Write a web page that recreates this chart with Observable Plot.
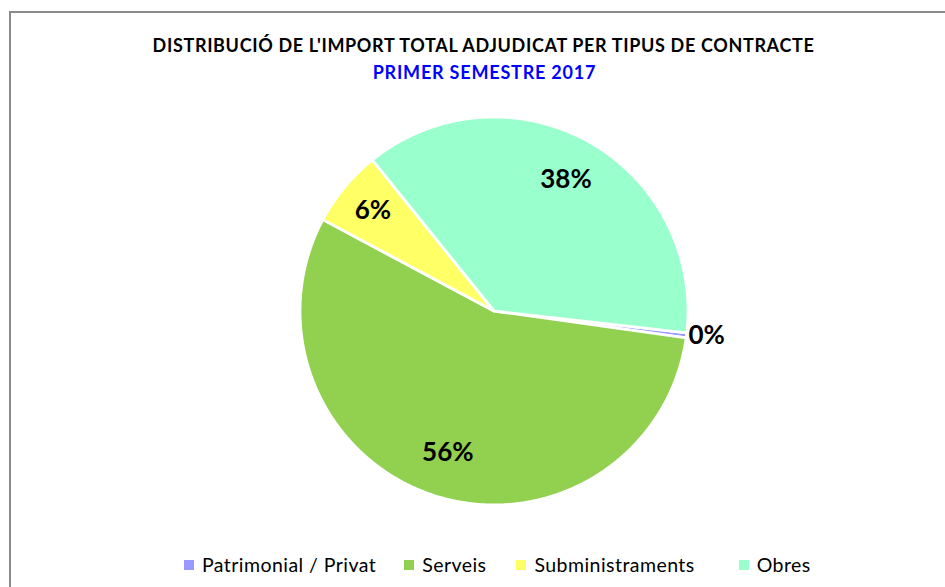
<!DOCTYPE html>
<html><head><meta charset="utf-8">
<script src="https://cdn.jsdelivr.net/npm/d3@7"></script>
<script src="https://cdn.jsdelivr.net/npm/@observablehq/plot@0.6"></script>
<style>
html,body{margin:0;padding:0;background:#fff;}
#wrap{position:relative;width:945px;height:587px;overflow:hidden;font-family:Lato,"Liberation Sans",Arial,sans-serif;}
#chart{position:absolute;left:0;top:0;z-index:0;}
#frame{position:absolute;left:9px;top:11px;width:1000px;height:1000px;border-left:2px solid #8a8a8a;border-top:2px solid #8a8a8a;z-index:2;pointer-events:none;}
#title{position:absolute;left:0;width:967px;top:35px;text-align:center;font-weight:bold;font-size:18px;letter-spacing:0.65px;line-height:20px;color:#000;z-index:3;white-space:nowrap;}
#subtitle{position:absolute;left:0;width:969px;top:62px;text-align:center;font-weight:bold;font-size:18px;letter-spacing:0.8px;line-height:20px;color:#0000ff;z-index:3;white-space:nowrap;}
#legend{position:absolute;left:184px;top:555px;display:flex;align-items:center;z-index:3;font-size:19.5px;letter-spacing:0.45px;line-height:20px;color:#000;white-space:nowrap;}
#legend .item{display:flex;align-items:center;}
#legend .sw{width:10px;height:10px;margin-right:8px;}
</style></head>
<body>
<div id="wrap">
  <div id="chart"></div>
  <div id="frame"></div>
  <div id="title">DISTRIBUCIÓ DE L'IMPORT TOTAL ADJUDICAT PER TIPUS DE CONTRACTE</div>
  <div id="subtitle">PRIMER SEMESTRE 2017</div>
  <div id="legend"></div>
</div>
<script>
// ---- data ----
const categories = ["Patrimonial / Privat", "Serveis", "Subministraments", "Obres"];
const shares = [0.4, 55.6, 6.4, 37.6];
const pctLabels = ["0%", "56%", "6%", "38%"];
const colors = ["#9999FF", "#92D050", "#FFFF66", "#99FFCC"];

// ---- layout ----
const W = 945, H = 587;
const cx = 493.5, cy = 310.5, R = 194;
const firstSliceAngle = 96.5; // degrees clockwise from 12 o'clock

const pie = d3.pie().sort(null).value(d => d.share)
  .startAngle(firstSliceAngle * Math.PI / 180)
  .endAngle(firstSliceAngle * Math.PI / 180 + 2 * Math.PI);
const rows = categories.map((c, i) => ({cat: c, share: shares[i], label: pctLabels[i]}));
const arcs = pie(rows);

// polygon points in unit-radius coordinates
const pts = [];
for (const a of arcs) {
  const n = Math.max(2, Math.ceil((a.endAngle - a.startAngle) / (Math.PI / 360)));
  pts.push({cat: a.data.cat, x: 0, y: 0});
  for (let k = 0; k <= n; k++) {
    const t = a.startAngle + (a.endAngle - a.startAngle) * k / n;
    pts.push({cat: a.data.cat, x: Math.sin(t), y: Math.cos(t)});
  }
}
const labelPts = arcs.map(a => {
  const m = (a.startAngle + a.endAngle) / 2;
  const inside = a.data.share >= 2;
  const rr = !inside ? 1.0 : (a.data.share < 10 ? 0.81 : 0.77);
  return {cat: a.data.cat, label: a.data.label, inside, x: rr * Math.sin(m), y: rr * Math.cos(m)};
});

const chart = Plot.plot({
  width: W, height: H,
  margin: 0,
  x: {domain: [-cx / R, (W - cx) / R], axis: null},
  y: {domain: [-(H - cy) / R, cy / R], axis: null},
  color: {domain: categories, range: colors},
  style: {background: "transparent"},
  marks: [
    Plot.line(pts, {x: "x", y: "y", z: "cat", fill: "cat", stroke: "white", strokeWidth: 2.8, curve: "linear-closed", strokeLinejoin: "round"}),
    Plot.text(labelPts.filter(d => d.inside), {x: "x", y: "y", text: "label", fontSize: 26, fontWeight: "bold", fill: "#000", fontFamily: "Lato, 'Liberation Sans', Arial, sans-serif"}),
    Plot.text(labelPts.filter(d => !d.inside), {x: "x", y: "y", text: "label", textAnchor: "start", dx: 2, fontSize: 26, fontWeight: "bold", fill: "#000", fontFamily: "Lato, 'Liberation Sans', Arial, sans-serif"})
  ]
});
document.getElementById("chart").appendChild(chart);

// legend
const leg = document.getElementById("legend");
const gaps = [28, 30, 44, 0];
categories.forEach((c, i) => {
  const it = document.createElement("div");
  it.className = "item";
  it.style.marginRight = gaps[i] + "px";
  const sw = document.createElement("span");
  sw.className = "sw";
  sw.style.background = colors[i];
  const tx = document.createElement("span");
  tx.textContent = c;
  it.appendChild(sw); it.appendChild(tx);
  leg.appendChild(it);
});
</script>
</body></html>
